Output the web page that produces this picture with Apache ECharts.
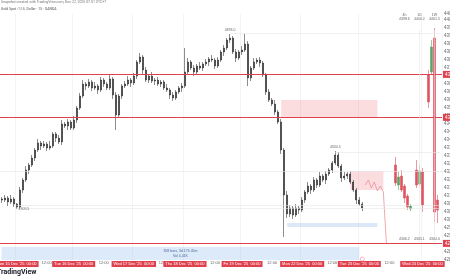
<!DOCTYPE html>
<html><head><meta charset="utf-8">
<script src="https://cdn.jsdelivr.net/npm/echarts@6/dist/echarts.min.js"></script>
<style>html,body{margin:0;padding:0;background:#fff}#c{width:450px;height:280px}</style>
</head><body><div id="c"></div>
<script>
// ---- data (prices) ----
const slotCount = 147;
const firstOpen = 4310.5;
const closes = [
4310,4311,4309,4310.5,4308,4306.5,4315,4320,4325,4327.5,
4331,4335,4338.5,4337,4338,4336,4337,4343,4341,4339,
4348,4347,4349,4346,4350,4356,4362,4368,4367,4369,
4366,4367,4365,4370,4368,4366,4370.5,4362.5,4352.5,4362,
4367,4368,4370,4368.5,4372,4379,4381.5,4375,4370,4372,
4369.5,4370,4368,4369,4366,4365,4362.5,4361,4364,4366,
4367,4374,4379,4376,4374,4377,4376,4378,4379,4380.5,
4380,4377,4380,4384,4386,4390,4391,4384,4381,4384,
4385,4388,4371,4376,4379,4380,4378.5,4372.5,4364,4360,
4358,4354,4349,4335,4312.5,4303,4306,4302.5,4306,4305,
4310,4314,4317,4315,4320,4317.5,4322,4320,4323,4325,
4328.5,4332.5,4327,4321,4322,4323,4319,4315,4310,4308,
4306];
const upWick = [
1,1.5,1,2,1,0.5,1.5,1,2,1,
1.5,1,2,1,1.5,1,2.5,1,1,1.5,
2,1,1.5,1,2,1,1.5,2,1,1.5,
1,2,1,1.5,1,1,2,1,1.5,1,
1,1.5,2,1,1.5,1,2,1,1.5,1,
2,1,1.5,1,1,2,1,1.5,1,1,
1.5,12,2,1,1.5,1,2,1,1.5,1,
2,1,1.5,1,1.5,1,2,1,1.5,1,
2,5,1.5,1,2,1,1.5,1,1,1.5,
1,2,1,1.5,1,2,1.5,1,2,1,
1.5,1,2,1,1.5,1,2,1,1.5,1,
1,2,1.5,1,2,1,1.5,1,1,1.5,
1];
const dnWick = [
1.5,1,2,1,1.5,1,1,1.5,1,2,
1,1.5,1,2,1,1.5,1,1,2,1,
1.5,1,2,1,1,1.5,1,1,2,1,
1.5,1,2,1,1.5,1,1,2,7.5,1,
1.5,1,1,2,1,1.5,1,2,1,1.5,
1,2,1,1.5,1,1,2,1.5,1,1,
2,1,1.5,1,2,1,1,1.5,1,2,
1,1.5,1,1,2,1,1.5,1,2,1,
1.5,1,4,1.5,1,1,2,1,1.5,1,
1,1.5,1,2,21,2,1.5,2,1,2,
1,1.5,1,2,1,1.5,1,1,2,1,
1.5,1,1,2,1,1.5,1,1,2,1,
1.5];
// right cluster candles
const rightSlots = [131,132,133,134,135,136,138,139,140,142,143,144,145];
const rightOpen  = [4327.5,4317.5,4322,4317,4312,4305.5,4325,4318,4324,4372.5,4374,4391,4310];
const rightClose = [4318.5,4321.5,4315,4311,4306.5,4307,4317.5,4324.5,4307.5,4359,4386.5,4304,4305];
const rightLow   = [4317,4315,4314,4308.5,4305,4304.5,4316,4317,4304,4356,4372.5,4299,4298.5];
const rightHigh  = [4331.5,4324,4325,4318,4313,4308,4330,4327.5,4326,4375,4390,4396,4312.5];
// projection path
const projSlots = [121,122,123,124,125,126,127,128];
const projValues = [4317.5,4320,4316,4319,4314.5,4317,4314,4288.5];
// key levels
const levelLines = [4372.75, 4351.25, 4288.25];
const tagLevels = [4393.5, 4334, 4324.5, 4305, 4300];
// time axis ticks
const tickSlots = [5,15,24,34,44,54,61,71,80,90,100,110,119,129,140];
const tickTexts = ["Mon 15 Dec '25  00:00","12:00","Tue 16 Dec '25  00:00","12:00","Wed 17 Dec '25  00:00","12:00",
  "Thu 18 Dec '25  00:00","12:00","Fri 19 Dec '25  00:00","12:00","Mon 22 Dec '25  00:00","12:00","Tue 23 Dec '25  00:00","12:00","Wed 24 Dec '25  00:00"];
const tickRed = [1,0,1,0,1,0,1,0,1,0,1,0,1,0,1];

// ---- build ----
const cats = [];
for (let i = 0; i < slotCount; i++) cats.push('b' + i);
const mainData = [];
for (let i = 0; i < slotCount; i++) {
  if (i < closes.length) {
    const o = i === 0 ? firstOpen : closes[i-1], c = closes[i];
    mainData.push([o, c, Math.min(o,c) - dnWick[i], Math.max(o,c) + upWick[i]]);
  } else mainData.push('-');
}
const rightData = new Array(slotCount).fill('-');
rightSlots.forEach((s,k) => { rightData[s] = [rightOpen[k], rightClose[k], rightLow[k], rightHigh[k]]; });
const projData = new Array(slotCount).fill('-');
projSlots.forEach((s,k) => { projData[s] = projValues[k]; });
const tickMap = {};
tickSlots.forEach((s,k) => { tickMap[s] = {t: tickTexts[k], r: tickRed[k]}; });
const redSet = new Set(tickSlots.filter((s,k) => tickRed[k]));

const RED = '#e0414f';
const redTag = {show:true, position:'end', distance:1, color:'#fff', backgroundColor:RED, fontSize:4.5, padding:[1,2],
  formatter: p => Number(p.value).toFixed(1)};
const faint = {color:'#e6e6e6', width:0.6, type:'solid'};

const chart = echarts.init(document.getElementById('c'), null, {renderer:'canvas'});
chart.setOption({
  animation: false,
  backgroundColor: '#ffffff',
  grid: {left: 0, right: 8, top: 14, bottom: 20, containLabel: false, outerBoundsMode: 'none'},
  xAxis: {
    type: 'category', data: cats, boundaryGap: true,
    axisLine: {show:false}, axisTick: {show:false},
    splitLine: {show:true, interval: (i) => redSet.has(i), lineStyle: {color:'#ececec', width:0.6}},
    axisLabel: {
      interval: 0, margin: 1, fontSize: 4, hideOverlap: false,
      formatter: (v, i) => { const m = tickMap[i]; if (!m) return ''; return m.r ? '{r|' + m.t + '}' : '{p|' + m.t + '}'; },
      rich: {r: {color:'#fff', backgroundColor:RED, fontSize:4, padding:[1,2]}, p: {color:'#666', fontSize:4}}
    }
  },
  yAxis: {
    type: 'value', position: 'right', min: 4280, max: 4403, interval: 4, scale: true,
    axisLine: {show:false}, axisTick: {show:false}, splitLine: {show:false},
    axisLabel: {fontSize: 4.5, color:'#666', margin: 2, formatter: v => v.toFixed(1)}
  },
  graphic: [
    {type:'text', left:1, top:0, style:{text:'Snapshot created with TradingView.com, Dec 22, 2025 07:01 UTC+7', fontSize:3.5, fill:'#777', fontFamily:'Roboto'}},
    {type:'text', left:1, top:7, style:{text:'Gold Spot / U.S. Dollar · 15 · OANDA', fontSize:3.5, fill:'#555', fontFamily:'Roboto'}},
    {type:'text', left:-3, top:269, style:{text:'TradingView', fontSize:7, fontWeight:'bold', fill:'#131722', fontFamily:'Roboto'}}
  ],
  series: [
    {
      type: 'candlestick', data: mainData, barWidth: 1.5, z: 3,
      itemStyle: {color:'#1b1b1b', color0:'#1b1b1b', borderColor:'#1b1b1b', borderColor0:'#1b1b1b', borderWidth:0.5},
      markArea: {
        silent: true,
        data: [
          [{xAxis: 93, yAxis: 4360, itemStyle:{color:'rgba(242,150,160,0.32)'}}, {xAxis: 125, yAxis: 4351.5}],
          [{xAxis: 116, yAxis: 4324.5, itemStyle:{color:'rgba(242,150,160,0.32)'}}, {xAxis: 127, yAxis: 4315}],
          [{xAxis: 95, yAxis: 4298.5, itemStyle:{color:'rgba(150,190,235,0.35)'}}, {xAxis: 125, yAxis: 4296.5}],
          [{xAxis: 0, yAxis: 4286.5, itemStyle:{color:'rgba(150,190,235,0.32)'},
            label:{show:true, position:'inside', formatter:'358 bars, 3d 17h 45m\nVol 4.41K', fontSize:3.5, color:'#4a6a9a', lineHeight:5}},
           {xAxis: 119, yAxis: 4280}]
        ]
      },
      markPoint: {
        silent: true, symbol: 'circle', symbolSize: 0,
        label: {fontSize: 3.5, color: '#666'},
        data: [
          {coord:[76,4393], value:'4393.0', label:{position:'top', distance:2}},
          {coord:[111,4334.5], value:'4334.5', label:{position:'top', distance:2}},
          {coord:[5,4305.5], value:'4305.5', label:{position:'right', distance:2}},
          {coord:[134,4397], value:'4h\n4398.6', label:{position:'top', lineHeight:4}},
          {coord:[139,4397], value:'1D\n4400.2', label:{position:'top', lineHeight:4}},
          {coord:[144,4397], value:'1W\n4401.5', label:{position:'top', lineHeight:4}},
          {coord:[134,4289], value:'4306.2', label:{position:'top', distance:1}},
          {coord:[139,4289], value:'4305.1', label:{position:'top', distance:1}},
          {coord:[144,4289], value:'4304.0', label:{position:'top', distance:1}},
          {coord:[120,4280.5], value:'', symbolSize:4, itemStyle:{color:'#fff', borderColor:'#f08a95', borderWidth:0.6}}
        ]
      }
    },
    {
      type: 'candlestick', data: rightData, barWidth: 2.5, z: 3,
      itemStyle: {color:'#5aa469', color0:'#e0525f', borderColor:'#5aa469', borderColor0:'#e0525f', borderWidth:0.6}
    },
    {
      type: 'line', data: projData, symbol: 'none', connectNulls: false, z: 2,
      itemStyle: {color: RED},
      lineStyle: {color:'#ef8f99', width:0.8},
      markLine: {
        silent: true, symbol: 'none', precision: 1,
        lineStyle: {color: RED, width: 1, type: 'solid'},
        data: [
          ...levelLines.map(v => ({yAxis: v, lineStyle:{color:RED, width:1, type:'solid', opacity:1}, label: redTag})),
          ...tagLevels.map(v => ({yAxis: v, lineStyle:{color:'#ffffff', width:0.1, opacity:0}, label: redTag})),
          {yAxis: 4324.5, lineStyle: faint, label:{show:false}},
          [{coord:[5,4307.5], lineStyle: faint}, {coord:[146,4307.5]}],
          [{coord:[5,4306], lineStyle: faint}, {coord:[146,4306]}],
          [{coord:[76,4393.5], lineStyle: faint}, {coord:[146,4393.5]}],
          [{coord:[111,4334], lineStyle: faint}, {coord:[146,4334]}],
          [{coord:[139,4395], lineStyle: faint}, {coord:[139,4289]}],
          [{coord:[144,4395], lineStyle: faint}, {coord:[144,4289]}]
        ].map(d => Array.isArray(d) ? d.map((e,k)=> k===0 ? Object.assign({label:{show:false}}, e) : e) : d)
      }
    }
  ]
});
</script>
</body></html>
